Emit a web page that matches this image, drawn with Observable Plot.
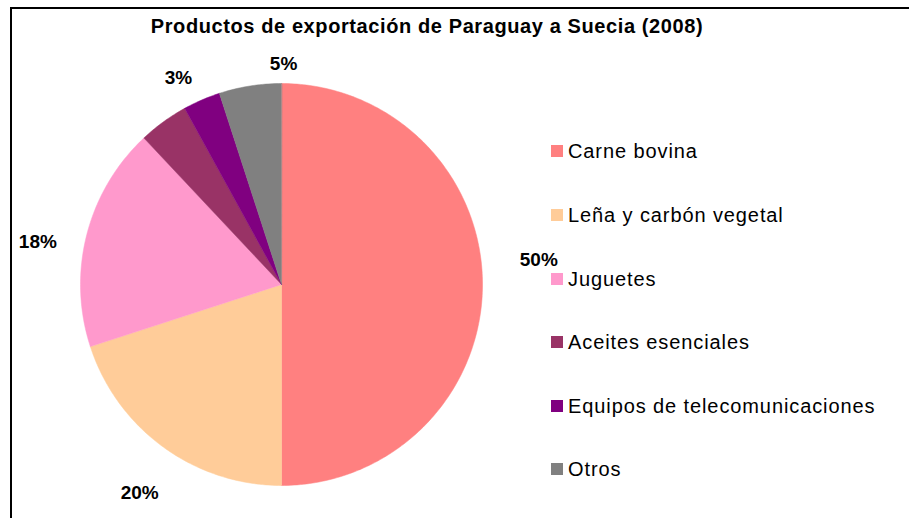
<!DOCTYPE html>
<html><head><meta charset="utf-8">
<script src="https://cdn.jsdelivr.net/npm/d3@7"></script>
<script src="https://cdn.jsdelivr.net/npm/@observablehq/plot@0.6"></script>
<style>
body{margin:0;background:#fff;}
#wrap{position:relative;width:909px;height:518px;overflow:hidden;font-family:"Liberation Sans",Arial,sans-serif;background:#fff;}
#frame{position:absolute;left:10px;top:7px;width:1000px;height:1000px;border-left:2px solid #000;border-top:2px solid #000;z-index:5;pointer-events:none;}
#title{position:absolute;left:0;width:854px;top:15px;text-align:center;font-weight:bold;font-size:20px;letter-spacing:0.6px;color:#000;z-index:4;}
#legend{position:absolute;left:551px;top:0;z-index:4;}
.li{position:absolute;left:0;white-space:nowrap;height:24px;}
.sw{position:absolute;left:0;top:6px;width:12px;height:12px;}
.lt{position:absolute;left:17px;top:0;font-size:20px;line-height:24px;letter-spacing:0.9px;color:#000;}
#chart{position:absolute;left:0;top:0;}
</style></head><body>
<div id="wrap"><div id="chart"></div><div id="title"></div><div id="legend"></div><div id="frame"></div></div>
<script>
const title = "Productos de exportación de Paraguay a Suecia (2008)";
const categories = ["Carne bovina","Leña y carbón vegetal","Juguetes","Aceites esenciales","Equipos de telecomunicaciones","Otros"];
const shares = [50, 20, 18, 4, 3, 5];
const labels = ["50%", "20%", "18%", "", "3%", "5%"];
const colors = ["#FF8080","#FFCC99","#FF99CC","#993366","#800080","#808080"];
// label nudges (pie-radius units) relative to the mid-angle point at radius 1.2
const labelNudge = [[0.08,0.12],[0.0,-0.064],[-0.05,-0.085],[0,0],[-0.036,-0.072],[0.198,-0.09]];

const arcs = d3.pie().sort(null).value(d => d)(shares);
const slicePts = [];
arcs.forEach((a, i) => {
  const name = categories[i];
  slicePts.push({name, x: 0, y: 0});
  const n = Math.max(4, Math.ceil((a.endAngle - a.startAngle) / (Math.PI * 2) * 400));
  for (let k = 0; k <= n; k++) {
    const t = a.startAngle + (a.endAngle - a.startAngle) * k / n;
    slicePts.push({name, x: Math.sin(t), y: Math.cos(t)});
  }
});
const labelData = arcs.map((a, i) => {
  const m = (a.startAngle + a.endAngle) / 2;
  return {label: labels[i], x: 1.2 * Math.sin(m) + labelNudge[i][0], y: 1.2 * Math.cos(m) + labelNudge[i][1]};
}).filter(d => d.label);

const cx = 281, cy = 284, r = 201;
const plot = Plot.plot({
  width: 909, height: 518,
  margin: 0,
  style: {background: "transparent", fontFamily: "Liberation Sans, Arial, sans-serif"},
  x: {domain: [-1, 1], range: [cx - r, cx + r], axis: null},
  y: {domain: [-1, 1], range: [cy + r, cy - r], axis: null},
  color: {domain: categories, range: colors},
  marks: [
    Plot.line(slicePts, {x: "x", y: "y", z: "name", fill: "name", stroke: "name", strokeWidth: 0.5, curve: "linear-closed"}),
    Plot.text(labelData, {x: "x", y: "y", text: "label", fontSize: 19, fontWeight: "bold", fill: "#000", textAnchor: "middle", lineAnchor: "middle"})
  ]
});
document.getElementById("chart").appendChild(plot);
document.getElementById("title").textContent = title;

const legend = document.getElementById("legend");
const rowY = [139, 203, 267, 330, 394, 457];
categories.forEach((c, i) => {
  const li = document.createElement("div");
  li.className = "li";
  li.style.top = rowY[i] + "px";
  const sw = document.createElement("div");
  sw.className = "sw"; sw.style.background = colors[i];
  const lt = document.createElement("div");
  lt.className = "lt"; lt.textContent = c;
  li.appendChild(sw); li.appendChild(lt);
  legend.appendChild(li);
});
</script>
</body></html>
